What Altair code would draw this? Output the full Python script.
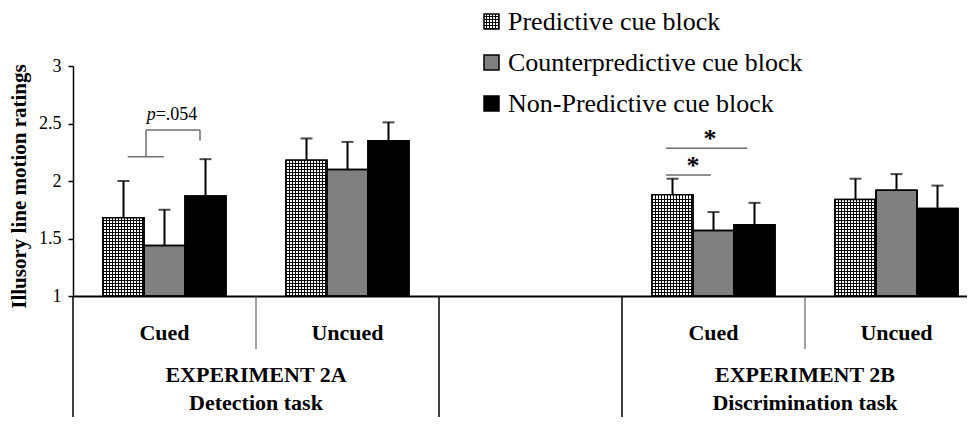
import math
import altair as alt
import pandas as pd

# ---------------- data ----------------
series = ["Predictive cue block", "Counterpredictive cue block", "Non-Predictive cue block"]
slots = ["Exp2A-Cued", "Exp2A-Uncued", "gap", "Exp2B-Cued", "Exp2B-Uncued"]
slot_labels = ["Cued", "Uncued", "", "Cued", "Uncued"]
bar_slots = ["Exp2A-Cued", "Exp2A-Uncued", "Exp2B-Cued", "Exp2B-Uncued"]

predictive = [1.68, 2.18, 1.88, 1.84]
counterpredictive = [1.44, 2.10, 1.57, 1.92]
nonpredictive = [1.87, 2.35, 1.62, 1.76]
predictive_err = [0.32, 0.19, 0.14, 0.18]
counterpredictive_err = [0.31, 0.24, 0.16, 0.14]
nonpredictive_err = [0.32, 0.16, 0.19, 0.20]

y_ticks = [1, 1.5, 2, 2.5, 3]
group_labels = ["EXPERIMENT 2A\nDetection task", "EXPERIMENT 2B\nDiscrimination task"]
group_at = ["Exp2A-Uncued", "Exp2B-Uncued"]

# annotation geometry (x in slot units, y in rating units)
bracket_x = [0.299, 0.399, 0.399, 0.694]
bracket_x2 = [0.497, 0.399, 0.694, 0.694]
bracket_y = [2.211, 2.211, 2.443, 2.443]
bracket_y2 = [2.211, 2.443, 2.443, 2.35]
star_line_x = [3.240, 3.240]
star_line_x2 = [3.685, 3.486]
star_line_y = [2.284, 2.052]
star_x = [3.481, 3.388]
star_y = [2.296, 2.063]
p_text_x = 0.452
p_text_y = 2.53

# ---------------- layout ----------------
FONT = "Liberation Serif"
PAD_L, PAD_T = 65, 58
PLOT_H = 230
PLOT_W = 894
TOTAL_H = 409
SLOT_W = 183
BAR_W = 41
X_RANGE = [0, SLOT_W * len(slots)]
Y_MIN, Y_MAX = 1, 3
PX_PER_UNIT = PLOT_H / (Y_MAX - Y_MIN)
CELL = 3  # pattern cell size in px

rows = []
for s, means, errs in zip(series, [predictive, counterpredictive, nonpredictive],
                          [predictive_err, counterpredictive_err, nonpredictive_err]):
    for slot, m, e in zip(bar_slots, means, errs):
        rows.append({"slot": slot, "series": s, "value": m, "upper": round(m + e, 3)})
df = pd.DataFrame(rows)


def stripes(n, vertical_lines, bg, fg, frac=1 / 3):
    stops = []
    for k in range(n):
        a = k / n
        b = (k + 1 - frac) / n
        c = (k + 1) / n
        stops += [alt.GradientStop(color=bg, offset=a), alt.GradientStop(color=bg, offset=b),
                  alt.GradientStop(color=fg, offset=b), alt.GradientStop(color=fg, offset=c)]
    if vertical_lines:
        return alt.LinearGradient(gradient="linear", stops=stops, x1=0, x2=1, y1=0, y2=0)
    return alt.LinearGradient(gradient="linear", stops=stops, x1=0, x2=0, y1=0, y2=1)


label_expr = "".join(
    f"datum.value == '{s}' ? '{l}' : " for s, l in zip(slots, slot_labels)
) + "''"

x_axis = alt.Axis(labelExpr=label_expr, ticks=False, grid=False, domainColor="black",
                  domainWidth=2, labelFont=FONT, labelFontSize=22, labelFontWeight="bold",
                  labelColor="black", labelPadding=36, labelBaseline="middle", labelAngle=0,
                  labelOverlap=False, title=None)
x_scale = alt.Scale(domain=slots, range=X_RANGE, paddingInner=0, paddingOuter=0)
off_pad = (SLOT_W / BAR_W - len(series)) / 2
off_scale = alt.Scale(domain=series, paddingInner=0, paddingOuter=off_pad)
YTITLE = "Illusory line motion ratings"
y_axis = alt.Axis(values=y_ticks, format="~g", grid=False, domainColor="black", domainWidth=1.5,
                  tickColor="black", tickSize=5, tickWidth=1.5, labelFont=FONT, labelFontSize=18,
                  labelColor="black", labelPadding=7,
                  title=YTITLE, titleFont=FONT, titleFontSize=21,
                  titleFontWeight="bold", titleColor="black", titleX=-54, titleY=PLOT_H / 2 + 5,
                  titleAngle=-90, titleAlign="center", titleBaseline="middle")
y_scale = alt.Scale(domain=[Y_MIN, Y_MAX], nice=False, zero=False)

X = alt.X("slot:N", scale=x_scale, axis=x_axis, title=None)
XO = alt.XOffset("series:N", scale=off_scale)
Y = alt.Y("value:Q", scale=y_scale, axis=y_axis, title=YTITLE)
Y2 = alt.Y2(datum=Y_MIN)

base = alt.Chart(df)

bars = base.mark_bar(stroke="black", strokeWidth=1.5).encode(
    x=X, xOffset=XO, y=Y, y2=Y2,
    fill=alt.Fill("series:N", scale=alt.Scale(domain=series, range=["white", "#808080", "black"]),
                  legend=None),
)
pred_filter = f"datum.series == '{series[0]}'"
inner_w = BAR_W - 2  # pattern width: a whole number of cells
vlines = base.transform_filter(pred_filter).mark_bar(
    fill=stripes(inner_w // CELL, True, "white", "black"), strokeWidth=0, width=inner_w
).encode(x=X, xOffset=XO, y=Y, y2=Y2)

hline_layers = []
for slot, m in zip(bar_slots, predictive):
    n = max(1, math.floor((m - Y_MIN) * PX_PER_UNIT / CELL))
    top = Y_MIN + n * CELL / PX_PER_UNIT
    hline_layers.append(
        base.transform_filter(f"{pred_filter} && datum.slot == '{slot}'").mark_bar(
            fill=stripes(n, False, "rgba(0,0,0,0)", "black"), strokeWidth=0
        ).encode(x=X, xOffset=XO, y=alt.Y(datum=top, scale=y_scale, axis=y_axis, title=YTITLE), y2=Y2)
    )

outline = base.mark_bar(fillOpacity=0, stroke="black", strokeWidth=1.5).encode(
    x=X, xOffset=XO, y=Y, y2=Y2)

err_rule = base.mark_rule(color="black", strokeWidth=2).encode(
    x=X, xOffset=XO, y=Y, y2=alt.Y2("upper:Q"))
err_cap = base.mark_tick(color="black", thickness=2, size=12, orient="horizontal").encode(
    x=X, xOffset=XO, y=alt.Y("upper:Q", scale=y_scale, axis=y_axis, title=YTITLE))

# category separators below the axis
sep_df = pd.DataFrame({
    "slot": ["Exp2A-Cued", "Exp2A-Uncued", "gap", "Exp2B-Cued", "Exp2B-Uncued"],
    "kind": ["long", "short", "long", "long", "short"],
})
XB = alt.X("slot:N", scale=x_scale, axis=x_axis, title=None, bandPosition=0)
sep_long = alt.Chart(sep_df).transform_filter("datum.kind == 'long'").mark_rule(
    color="black", strokeWidth=1.5).encode(x=XB, y=alt.value(PLOT_H), y2=alt.value(PLOT_H + 140))
sep_short = alt.Chart(sep_df).transform_filter("datum.kind == 'short'").mark_rule(
    color="#444", strokeWidth=1).encode(x=XB, y=alt.value(PLOT_H), y2=alt.value(PLOT_H + 53))

grp_df = pd.DataFrame({"slot": group_at, "label": group_labels})
grp_text = alt.Chart(grp_df).mark_text(
    font=FONT, fontSize=22, fontWeight="bold", color="black", align="center",
    baseline="alphabetic", lineBreak="\n", lineHeight=28,
).encode(x=XB, y=alt.value(316), text="label:N")

bar_group = alt.layer(bars, vlines, *hline_layers, outline, err_rule, err_cap,
                      sep_long, sep_short, grp_text)

# ---------------- annotations ----------------
XQ_SCALE = alt.Scale(domain=[0, len(slots)], range=X_RANGE, nice=False, zero=False)
XQ = alt.X("x:Q", scale=XQ_SCALE, axis=None)
YQ = alt.Y("y:Q", scale=y_scale, axis=y_axis, title=YTITLE)
seg_df = pd.DataFrame({
    "x": bracket_x + star_line_x, "x2": bracket_x2 + star_line_x2,
    "y": bracket_y + star_line_y, "y2": bracket_y2 + star_line_y,
})
segs = alt.Chart(seg_df).mark_rule(color="#6e6e6e", strokeWidth=1.5).encode(
    x=XQ, x2="x2:Q", y=YQ, y2="y2:Q")
star_df = pd.DataFrame({"x": star_x, "y": star_y, "t": ["*", "*"]})
stars = alt.Chart(star_df).mark_text(font=FONT, fontSize=26, fontWeight="bold", color="black",
                                     baseline="alphabetic").encode(x=XQ, y=YQ, text="t:N")
p_df = pd.DataFrame({"x": [p_text_x], "y": [p_text_y], "a": ["p"], "b": ["=.054"]})
p_italic = alt.Chart(p_df).mark_text(font=FONT, fontSize=18, fontStyle="italic", color="black",
                                     align="right", baseline="alphabetic").encode(
    x=XQ, y=YQ, text="a:N")
p_rest = alt.Chart(p_df).mark_text(font=FONT, fontSize=18, color="black",
                                   align="left", baseline="alphabetic").encode(
    x=XQ, y=YQ, text="b:N")

# ---------------- legend (manual, pixel layout) ----------------
one = pd.DataFrame({"k": [0]})
LEG_X0, LEG_SIZE, LEG_TX = 411, 15, 435
leg_tops = [-52, -11, 30]
leg_fills = ["white", "#808080", "black"]
legend_layers = []
for i, (name, t) in enumerate(zip(series, leg_tops)):
    pos = dict(x=alt.value(LEG_X0), x2=alt.value(LEG_X0 + LEG_SIZE),
               y=alt.value(t), y2=alt.value(t + LEG_SIZE))
    legend_layers.append(alt.Chart(one).mark_rect(fill=leg_fills[i]).encode(**pos))
    if i == 0:
        k = LEG_SIZE // CELL
        legend_layers.append(alt.Chart(one).mark_rect(fill=stripes(k, True, "white", "black")).encode(**pos))
        legend_layers.append(alt.Chart(one).mark_rect(fill=stripes(k, False, "rgba(0,0,0,0)", "black")).encode(**pos))
    legend_layers.append(alt.Chart(one).mark_rect(fillOpacity=0, stroke="black", strokeWidth=1.5).encode(**pos))
    legend_layers.append(alt.Chart(one).mark_text(
        text=name, font=FONT, fontSize=26, color="black", align="left", baseline="alphabetic"
    ).encode(x=alt.value(LEG_TX), y=alt.value(t + 15.5)))

annot_group = alt.layer(segs, stars, p_italic, p_rest, *legend_layers)

chart = alt.layer(bar_group, annot_group).resolve_scale(x="independent").properties(
    width=PLOT_W, height=PLOT_H,
    autosize=alt.AutoSizeParams(type="none"),
    padding={"left": PAD_L, "top": PAD_T, "right": 0, "bottom": TOTAL_H - PAD_T - PLOT_H},
    background="white",
).configure_view(stroke=None)

chart.save("out.html", embed_options={"renderer": "svg", "actions": False})
